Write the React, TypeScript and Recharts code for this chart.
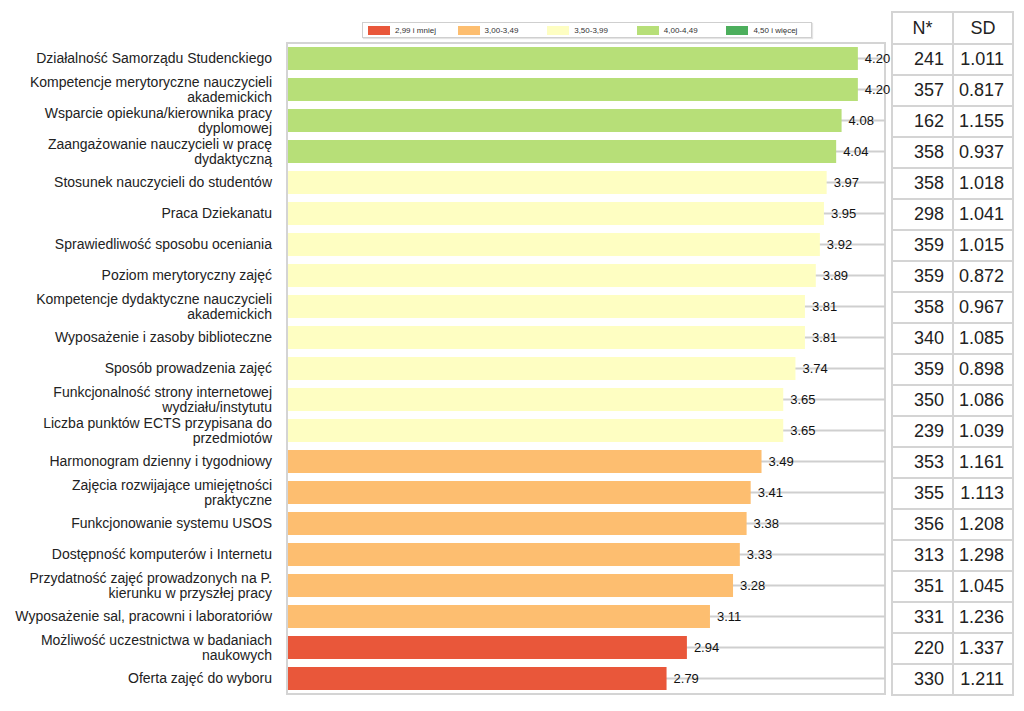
import React from "react";
import { BarChart, Bar, XAxis, YAxis, CartesianGrid, Cell, LabelList } from "recharts";

const categories = [
  "Działalność Samorządu Studenckiego",
  "Kompetencje merytoryczne nauczycieli\nakademickich",
  "Wsparcie opiekuna/kierownika pracy\ndyplomowej",
  "Zaangażowanie nauczycieli w pracę\ndydaktyczną",
  "Stosunek nauczycieli do studentów",
  "Praca Dziekanatu",
  "Sprawiedliwość sposobu oceniania",
  "Poziom merytoryczny zajęć",
  "Kompetencje dydaktyczne nauczycieli\nakademickich",
  "Wyposażenie i zasoby biblioteczne",
  "Sposób prowadzenia zajęć",
  "Funkcjonalność strony internetowej\nwydziału/instytutu",
  "Liczba punktów ECTS przypisana do\nprzedmiotów",
  "Harmonogram dzienny i tygodniowy",
  "Zajęcia rozwijające umiejętności\npraktyczne",
  "Funkcjonowanie systemu USOS",
  "Dostępność komputerów i Internetu",
  "Przydatność zajęć prowadzonych na P.\nkierunku w przyszłej pracy",
  "Wyposażenie sal, pracowni i laboratoriów",
  "Możliwość uczestnictwa w badaniach\nnaukowych",
  "Oferta zajęć do wyboru",
];

const means = [4.2, 4.2, 4.08, 4.04, 3.97, 3.95, 3.92, 3.89, 3.81, 3.81, 3.74, 3.65, 3.65, 3.49, 3.41, 3.38, 3.33, 3.28, 3.11, 2.94, 2.79];
const counts = [241, 357, 162, 358, 358, 298, 359, 359, 358, 340, 359, 350, 239, 353, 355, 356, 313, 351, 331, 220, 330];
const sds = ["1.011", "0.817", "1.155", "0.937", "1.018", "1.041", "1.015", "0.872", "0.967", "1.085", "0.898", "1.086", "1.039", "1.161", "1.113", "1.208", "1.298", "1.045", "1.236", "1.337", "1.211"];

const legendLabels = ["2,99 i mniej", "3,00-3,49", "3,50-3,99", "4,00-4,49", "4,50 i więcej"];
const legendColors = ["#e9573a", "#fdbe70", "#fefec2", "#b7df78", "#4cae5c"];
const thresholds = [3.0, 3.5, 4.0, 4.5];

const colorFor = (v: number) => {
  let i = 0;
  while (i < thresholds.length && v >= thresholds[i]) i++;
  return legendColors[i];
};

const data = categories.map((c, i) => ({ name: c, mean: means[i] }));

const FONT = '"Liberation Sans", Arial, sans-serif';
const ROW = 31;

const CatTick = (props: any) => {
  const { x, y, payload } = props;
  const lines = String(payload.value).split("\n");
  const lh = 15;
  const start = y - ((lines.length - 1) * lh) / 2;
  return (
    <text x={x} y={start} textAnchor="end" fontSize={14} fill="#222" fontFamily={FONT}>
      {lines.map((l, i) => (
        <tspan key={i} x={x} y={start + i * lh} dy="0.35em">
          {l}
        </tspan>
      ))}
    </text>
  );
};

export default function App() {
  return (
    <div style={{ position: "relative", width: 1024, height: 711, background: "#fff", fontFamily: FONT }}>
      <style>{"body{margin:0}"}</style>

      {/* plot frame (behind the chart) */}
      <div
        style={{
          position: "absolute",
          left: 286,
          top: 42,
          width: 600,
          height: 653,
          border: "2px solid #d4d4d4",
          boxSizing: "border-box",
          pointerEvents: "none",
        }}
      />

      <div style={{ position: "absolute", left: 0, top: 0 }}>
        <BarChart
          width={1024}
          height={711}
          data={data}
          layout="vertical"
          margin={{ top: 43, right: 139, bottom: 17, left: 8 }}
          barSize={23}
        >
          <CartesianGrid
            vertical={false}
            stroke="#cfcfcf"
            strokeWidth={2}
            horizontalCoordinatesGenerator={({ offset }: any) =>
              categories.map((_, i) => offset.top + (offset.height / categories.length) * (i + 0.5))
            }
          />
          <XAxis type="number" domain={[0, 4.4]} hide />
          <YAxis
            type="category"
            dataKey="name"
            width={280}
            axisLine={false}
            tickLine={false}
            tickSize={0}
            tickMargin={16}
            interval={0}
            tick={<CatTick />}
          />
          <Bar dataKey="mean" isAnimationActive={false}>
            {data.map((d, i) => (
              <Cell key={i} fill={colorFor(d.mean)} />
            ))}
            <LabelList
              dataKey="mean"
              position="right"
              offset={7}
              fontSize={13}
              fill="#111"
              fontFamily={FONT}
              formatter={(v: any) => Number(v).toFixed(2)}
            />
          </Bar>
        </BarChart>
      </div>

      {/* legend */}
      <div
        style={{
          position: "absolute",
          left: 362,
          top: 22,
          width: 450,
          height: 16,
          border: "1px solid #cfcfcf",
          boxSizing: "border-box",
          display: "flex",
          alignItems: "center",
          fontSize: 8,
          color: "#333",
          boxShadow: "1px 1px 1px #e4e4e4",
        }}
      >
        {legendLabels.map((l, i) => (
          <div key={i} style={{ display: "flex", alignItems: "center", width: 95, paddingLeft: 5, boxSizing: "border-box" }}>
            <span style={{ display: "inline-block", width: 22, height: 9, background: legendColors[i], marginRight: 5 }} />
            <span>{l}</span>
          </div>
        ))}
      </div>

      {/* table */}
      <div
        style={{
          position: "absolute",
          left: 891,
          top: 11,
          width: 123,
          borderLeft: "2px solid #d4d4d4",
          borderTop: "2px solid #d4d4d4",
          boxSizing: "border-box",
          fontSize: 18,
          color: "#222",
        }}
      >
        <div style={{ display: "flex", height: ROW + 1 }}>
          <div style={cellStyle(61, "center")}>N*</div>
          <div style={cellStyle(60, "center")}>SD</div>
        </div>
        {categories.map((_, i) => (
          <div key={i} style={{ display: "flex", height: ROW }}>
            <div style={cellStyle(61, "right")}>{counts[i]}</div>
            <div style={cellStyle(60, "right")}>{sds[i]}</div>
          </div>
        ))}
      </div>
    </div>
  );
}

function cellStyle(w: number, align: "center" | "right"): React.CSSProperties {
  return {
    width: w,
    height: "100%",
    borderRight: "2px solid #d4d4d4",
    borderBottom: "2px solid #d4d4d4",
    boxSizing: "border-box",
    display: "flex",
    alignItems: "center",
    justifyContent: align === "center" ? "center" : "flex-end",
    paddingRight: align === "right" ? 8 : 0,
  };
}
